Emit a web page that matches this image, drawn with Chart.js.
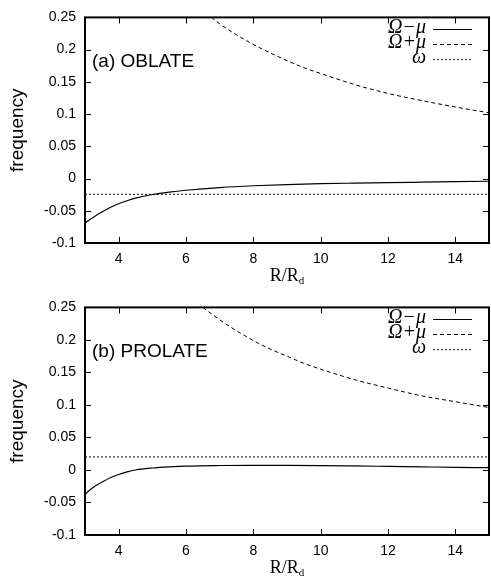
<!DOCTYPE html>
<html>
<head>
<meta charset="utf-8">
<script src="https://cdn.jsdelivr.net/npm/chart.js@4.4.1/dist/chart.umd.min.js"></script>
<style>
  html, body { margin: 0; padding: 0; background: #fff; }
  canvas { display: block; }
</style>
</head>
<body>
<canvas id="chart-oblate" width="491" height="290"></canvas>
<canvas id="chart-prolate" width="491" height="287"></canvas>
<script>
// tick positions
const xTicks = [4, 6, 8, 10, 12, 14];
const yTicks = [-0.1, -0.05, 0, 0.05, 0.1, 0.15, 0.2, 0.25];

const seriesLabels = ['\u03A9\u2212\u03BC', '\u03A9+\u03BC', '\u03C9'];

// (a) oblate
const oblateMinusR = [3, 3.25, 3.5, 3.75, 4, 4.25, 4.5, 5, 5.5, 6, 7, 8, 9, 10, 11, 12, 13, 14, 15];
const oblateMinus = [-0.069, -0.060, -0.052, -0.045, -0.0392, -0.0345, -0.0305, -0.0248, -0.0210, -0.0182, -0.0140, -0.0112, -0.0093, -0.0080, -0.0071, -0.0063, -0.0056, -0.0049, -0.0042];
const oblatePlusR = [6.75, 7, 7.5, 8, 8.5, 9, 9.5, 10, 11, 12, 13, 14, 15];
const oblatePlus = [0.25, 0.240, 0.223, 0.208, 0.195, 0.183, 0.172, 0.163, 0.146, 0.132, 0.121, 0.111, 0.102];
const oblateOmegaR = [3, 15];
const oblateOmega = [-0.0245, -0.0245];

// (b) prolate
const prolateMinusR = [3, 3.25, 3.5, 3.75, 4, 4.25, 4.5, 5, 5.5, 6, 7, 8, 9, 10, 11, 12, 13, 14, 15];
const prolateMinus = [-0.037, -0.0265, -0.019, -0.012, -0.007, -0.003, 0.0, 0.003, 0.0048, 0.006, 0.0069, 0.0072, 0.0071, 0.0068, 0.0062, 0.0055, 0.0048, 0.0041, 0.0035];
const prolatePlusR = [6.5, 7, 7.5, 8, 8.5, 9, 9.5, 10, 11, 12, 13, 14, 15];
const prolatePlus = [0.25, 0.231, 0.214, 0.199, 0.186, 0.175, 0.164, 0.155, 0.139, 0.126, 0.114, 0.105, 0.096];
const prolateOmegaR = [3, 15];
const prolateOmega = [0.02, 0.02];

const SANS = '"Liberation Sans", Arial, sans-serif';
const SERIF = '"Liberation Serif", "Times New Roman", serif';

function toPoints(xs, ys) {
    return xs.map((x, i) => ({ x: x, y: ys[i] }));
}

function makeDatasets(minusR, minus, plusR, plus, omR, om) {
    return [
        { label: seriesLabels[0], data: toPoints(minusR, minus), borderColor: '#000', borderWidth: 1.2, borderDash: [] },
        { label: seriesLabels[1], data: toPoints(plusR, plus), borderColor: '#000', borderWidth: 1, borderDash: [4, 3] },
        { label: seriesLabels[2], data: toPoints(omR, om), borderColor: '#333', borderWidth: 1.2, borderDash: [2, 2] }
    ];
}

// frame, inward ticks, legend, panel label and x title
const decorPlugin = {
    id: 'decor',
    afterDraw(chart, args, opts) {
        const { ctx, chartArea: a } = chart;
        const xs = chart.scales.x, ys = chart.scales.y;
        ctx.save();

        ctx.strokeStyle = '#000';
        ctx.lineWidth = 1;
        ctx.setLineDash([]);
        ctx.beginPath();
        xTicks.forEach(v => {
            const px = Math.round(xs.getPixelForValue(v)) + 0.5;
            ctx.moveTo(px, a.bottom); ctx.lineTo(px, a.bottom - 6);
            ctx.moveTo(px, a.top); ctx.lineTo(px, a.top + 6);
        });
        yTicks.forEach(v => {
            const py = Math.round(ys.getPixelForValue(v)) + 0.5;
            ctx.moveTo(a.left, py); ctx.lineTo(a.left + 6, py);
            ctx.moveTo(a.right, py); ctx.lineTo(a.right - 6, py);
        });
        ctx.stroke();

        ctx.lineWidth = 2;
        ctx.strokeRect(a.left, a.top, a.right - a.left, a.bottom - a.top);

        // legend
        ctx.font = 'italic 20px ' + SERIF;
        ctx.textAlign = 'right';
        ctx.textBaseline = 'alphabetic';
        ctx.fillStyle = '#000';
        chart.data.datasets.forEach((ds, i) => {
            const ly = a.top + 11.5 + i * 15;
            ctx.fillText(ds.label, a.right - 63, ly + 4.5);
            ctx.strokeStyle = ds.borderColor;
            ctx.lineWidth = ds.borderWidth;
            ctx.setLineDash(ds.borderDash);
            ctx.beginPath();
            ctx.moveTo(a.right - 56, Math.round(ly) + 0.5);
            ctx.lineTo(a.right - 17, Math.round(ly) + 0.5);
            ctx.stroke();
        });
        ctx.setLineDash([]);

        // panel label
        ctx.font = '19px ' + SANS;
        ctx.textAlign = 'left';
        ctx.textBaseline = 'middle';
        ctx.fillStyle = '#000';
        ctx.fillText(opts.panel, a.left + 7, a.top + 44);

        // x axis title R/R_d
        const cx = (a.left + a.right) / 2;
        const ty = a.bottom + 33;
        ctx.font = '18px ' + SERIF;
        const main = 'R/R';
        const w1 = ctx.measureText(main).width;
        ctx.font = '11px ' + SERIF;
        const w2 = ctx.measureText('d').width;
        const x0 = cx - (w1 + w2) / 2;
        ctx.font = '18px ' + SERIF;
        ctx.fillText(main, x0, ty);
        ctx.font = '11px ' + SERIF;
        ctx.fillText('d', x0 + w1, ty + 5);

        ctx.restore();
    }
};

function buildChart(canvasId, datasets, panel, xAxisHeight) {
    const ctx = document.getElementById(canvasId).getContext('2d');
    return new Chart(ctx, {
        type: 'scatter',
        data: { datasets: datasets },
        plugins: [decorPlugin],
        options: {
            responsive: false,
            animation: false,
            devicePixelRatio: 1,
            layout: { padding: { top: 13, right: 2, left: 0, bottom: 0 } },
            elements: {
                point: { radius: 0, hoverRadius: 0 },
                line: { tension: 0.4, cubicInterpolationMode: 'monotone', fill: false }
            },
            datasets: { scatter: { showLine: true } },
            scales: {
                x: {
                    type: 'linear',
                    min: 3,
                    max: 15,
                    grid: { display: false, drawTicks: false },
                    border: { display: false },
                    afterBuildTicks: s => { s.ticks = xTicks.map(v => ({ value: v })); },
                    afterFit: s => { s.height = xAxisHeight; },
                    ticks: {
                        font: { family: SANS, size: 14 },
                        color: '#000',
                        padding: 8,
                        maxRotation: 0,
                        autoSkip: false,
                        callback: v => String(v)
                    }
                },
                y: {
                    min: -0.1,
                    max: 0.25,
                    grid: { display: false, drawTicks: false },
                    border: { display: false },
                    afterBuildTicks: s => { s.ticks = yTicks.map(v => ({ value: v })); },
                    afterFit: s => { s.width = 85; },
                    ticks: {
                        font: { family: SANS, size: 14 },
                        color: '#000',
                        padding: 9,
                        autoSkip: false,
                        callback: v => String(v)
                    },
                    title: {
                        display: true,
                        text: 'frequency',
                        color: '#000',
                        font: { family: SANS, size: 19 },
                        padding: { top: 6, bottom: 0 }
                    }
                }
            },
            plugins: {
                legend: { display: false },
                tooltip: { enabled: false },
                decor: { panel: panel }
            }
        }
    });
}

buildChart('chart-oblate',
    makeDatasets(oblateMinusR, oblateMinus, oblatePlusR, oblatePlus, oblateOmegaR, oblateOmega),
    '(a) OBLATE', 47);
buildChart('chart-prolate',
    makeDatasets(prolateMinusR, prolateMinus, prolatePlusR, prolatePlus, prolateOmegaR, prolateOmega),
    '(b) PROLATE', 42);
</script>
</body>
</html>
